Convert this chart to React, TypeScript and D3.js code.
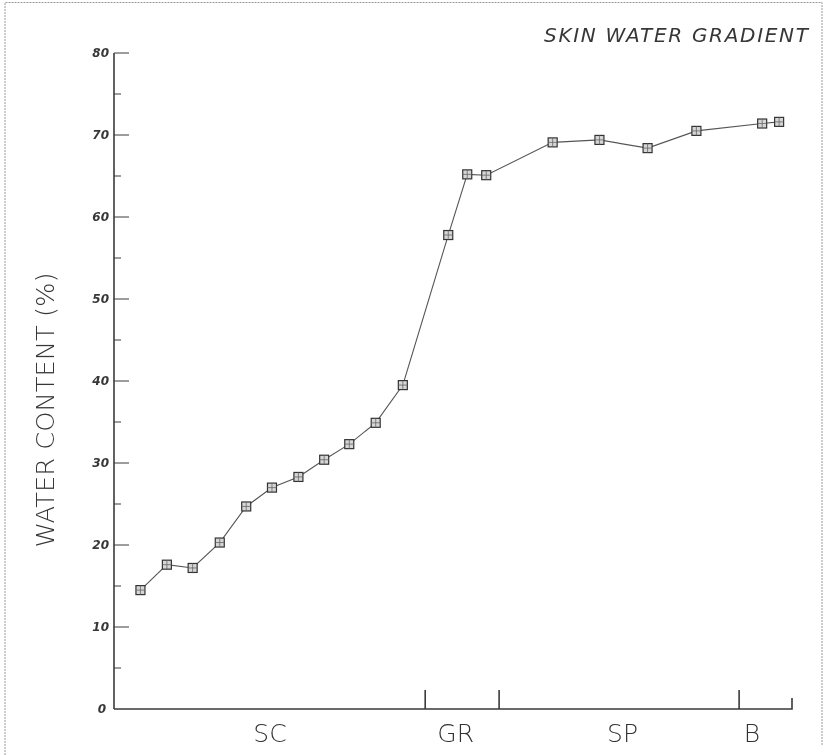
import { useEffect, useRef } from "react";
import * as d3 from "d3";

// depth position along the skin section (arbitrary units, 0..100) and water content (%)
const depth = [3.9, 7.8, 11.6, 15.6, 19.5, 23.3, 27.2, 31.0, 34.7, 38.6, 42.6, 49.3, 52.1, 54.9, 64.7, 71.6, 78.7, 85.9, 95.6, 98.1];
const water = [14.5, 17.6, 17.2, 20.3, 24.7, 27.0, 28.3, 30.4, 32.3, 34.9, 39.5, 57.8, 65.2, 65.1, 69.1, 69.4, 68.4, 70.5, 71.4, 71.6];

// layer boundaries on the x axis and layer labels
const layerBounds = [45.9, 56.8, 92.2];
const layerNames = ["SC", "GR", "SP", "B"];
const layerLabelPos = [23, 50.4, 75, 94.1];

const yMajor = [0, 10, 20, 30, 40, 50, 60, 70, 80];
const yMinor = [5, 15, 25, 35, 45, 55, 65, 75];

const W = 826;
const H = 755;

export default function App() {
  const ref = useRef<SVGSVGElement>(null);

  useEffect(() => {
    if (!ref.current) return;
    const svg = d3.select(ref.current);
    svg.selectAll("*").remove();

    const x = d3.scaleLinear().domain([0, 100]).range([114, 792]);
    const y = d3.scaleLinear().domain([0, 80]).range([709, 53]);
    const ink = "#3a3a3a";

    // frame of the scanned sheet
    svg.append("path")
      .attr("d", `M5,${H} V2.5 H822 V${H - 10}`)
      .attr("fill", "none")
      .attr("stroke", "#9a9a9a")
      .attr("stroke-width", 1)
      .attr("stroke-dasharray", "2,1");

    // y axis
    svg.append("line")
      .attr("x1", x(0)).attr("x2", x(0))
      .attr("y1", y(0)).attr("y2", y(80))
      .attr("stroke", ink).attr("stroke-width", 1.6);

    svg.selectAll(".ymaj")
      .data(yMajor.filter(d => d > 0))
      .enter().append("line")
      .attr("x1", x(0)).attr("x2", x(0) + 15)
      .attr("y1", d => y(d)).attr("y2", d => y(d))
      .attr("stroke", ink).attr("stroke-width", 1);

    svg.selectAll(".ymin")
      .data(yMinor)
      .enter().append("line")
      .attr("x1", x(0)).attr("x2", x(0) + 7)
      .attr("y1", d => y(d)).attr("y2", d => y(d))
      .attr("stroke", ink).attr("stroke-width", 1);

    // text layer (opacity keeps the glyphs grey-scale antialiased)
    const txt = svg.append("g").attr("opacity", 0.98);

    txt.selectAll(".ylab")
      .data(yMajor)
      .enter().append("text")
      .attr("x", d => (d === 0 ? 106 : 109))
      .attr("y", d => y(d) + 4)
      .attr("text-anchor", "end")
      .attr("font-family", "DejaVu Sans")
      .attr("font-style", "italic")
      .attr("font-weight", "bold")
      .attr("font-size", 12)
      .attr("fill", "#333")
      .text(d => String(d));

    // x axis with layer boundaries
    svg.append("path")
      .attr("d", `M${x(0)},${y(0)} H${x(100)} V${y(0) - 11}`)
      .attr("fill", "none")
      .attr("stroke", ink).attr("stroke-width", 1.6);

    svg.selectAll(".xb")
      .data(layerBounds)
      .enter().append("line")
      .attr("x1", d => x(d)).attr("x2", d => x(d))
      .attr("y1", y(0)).attr("y2", y(0) - 19)
      .attr("stroke", ink).attr("stroke-width", 1.6);

    txt.selectAll(".xl")
      .data(layerNames)
      .enter().append("text")
      .attr("x", (d, i) => x(layerLabelPos[i]))
      .attr("y", 742)
      .attr("text-anchor", "middle")
      .attr("font-family", "DejaVu Sans")
      .attr("font-weight", 200)
      .attr("font-size", 25)
      .attr("fill", "#2e2e2e")
      .text(d => d);

    // axis title
    txt.append("text")
      .attr("transform", `translate(54,410) rotate(-90)`)
      .attr("text-anchor", "middle")
      .attr("font-family", "DejaVu Sans")
      .attr("font-weight", 200)
      .attr("font-size", 25)
      .attr("textLength", 275)
      .attr("lengthAdjust", "spacingAndGlyphs")
      .attr("fill", "#333")
      .text("WATER CONTENT (%)");

    // chart title
    txt.append("text")
      .attr("x", 808)
      .attr("y", 42)
      .attr("text-anchor", "end")
      .attr("font-family", "DejaVu Sans")
      .attr("font-style", "italic")
      .attr("font-weight", 200)
      .attr("font-size", 20)
      .attr("textLength", 264)
      .attr("lengthAdjust", "spacing")
      .attr("fill", "#333")
      .text("SKIN WATER GRADIENT");

    // data line
    const pts = depth.map((d, i) => [d, water[i]] as [number, number]);
    const line = d3.line<[number, number]>()
      .x(d => x(d[0]))
      .y(d => y(d[1]));

    svg.append("path")
      .attr("d", line(pts) || "")
      .attr("fill", "none")
      .attr("stroke", "#555")
      .attr("stroke-width", 1.1);

    // square markers
    const s = 9;
    const g = svg.selectAll(".pt")
      .data(pts)
      .enter().append("g")
      .attr("transform", d => `translate(${x(d[0])},${y(d[1])})`);

    g.append("rect")
      .attr("x", -s / 2).attr("y", -s / 2)
      .attr("width", s).attr("height", s)
      .attr("fill", "#d6d6d6")
      .attr("stroke", "#333")
      .attr("stroke-width", 1.2);

    g.append("path")
      .attr("d", `M${-s / 2},0 H${s / 2} M0,${-s / 2} V${s / 2}`)
      .attr("stroke", "#666")
      .attr("stroke-width", 0.8);
  }, []);

  return (
    <svg
      ref={ref}
      width={W}
      height={H}
      style={{ position: "fixed", left: 0, top: 0, background: "#fff" }}
    />
  );
}
